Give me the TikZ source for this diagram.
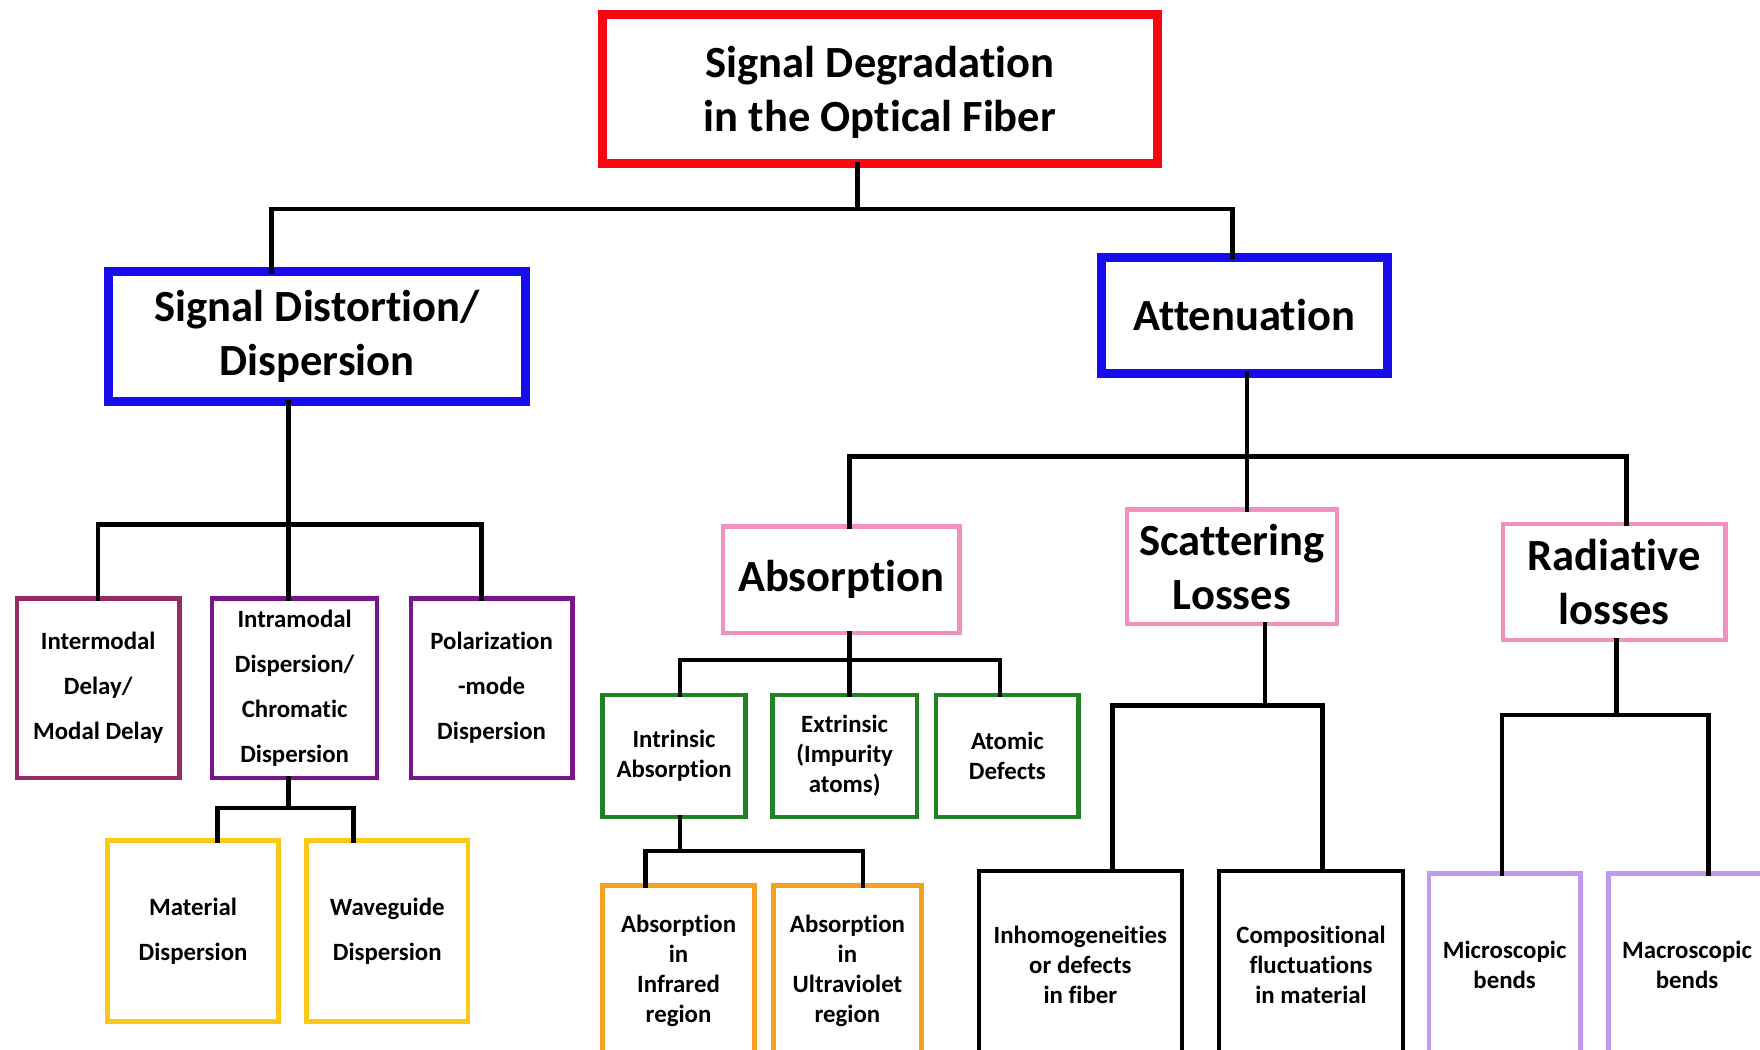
\documentclass[tikz,border=0pt]{standalone}
\usepackage{fontspec}
\setmainfont[Ligatures={NoCommon}]{Carlito}
\usetikzlibrary{calc}

\definecolor{degred}{RGB}{245,8,18}
\definecolor{catblue}{RGB}{22,12,238}
\definecolor{intermaroon}{RGB}{150,44,102}
\definecolor{intrapurple}{RGB}{118,22,138}
\definecolor{dispyellow}{RGB}{250,200,22}
\definecolor{losspink}{RGB}{240,146,192}
\definecolor{absgreen}{RGB}{32,130,34}
\definecolor{regorange}{RGB}{245,160,32}
\definecolor{bendlilac}{RGB}{192,152,240}

\begin{document}
\begin{tikzpicture}[
    box/.style={draw, rectangle, align=center, inner sep=0pt, outer sep=0pt, font=\bfseries},
    bigbox/.style={box, line width=2.3pt, font=\fontsize{11.3}{13.7}\selectfont\bfseries},
    midbox/.style={box, line width=1.15pt, font=\fontsize{11.3}{13.7}\selectfont\bfseries},
    loosebox/.style={box, line width=1.15pt, font=\fontsize{6.3}{11.4}\selectfont\bfseries},
    tightbox/.style={box, line width=1.15pt, font=\fontsize{6.3}{7.6}\selectfont\bfseries},
    link/.style={line width=1.15pt, line cap=rect}
]
\useasboundingbox (0,0) rectangle (15.68,-9.35);
\clip (0,0) rectangle (15.68,-9.35);

% top and second level
\node[bigbox, draw=degred, minimum width=4.94cm, minimum height=1.33cm, text depth=-0.6mm] (deg) at (7.84,-0.795)
    {Signal Degradation\\in the Optical Fiber};
\node[bigbox, draw=catblue, minimum width=3.71cm, minimum height=1.16cm] (dist) at (2.825,-3.00)
    {Signal Distortion/\\Dispersion};
\node[bigbox, draw=catblue, minimum width=2.55cm, minimum height=1.04cm] (att) at (11.085,-2.81)
    {Attenuation};

% dispersion branch
\node[loosebox, draw=intermaroon, minimum width=1.45cm, minimum height=1.60cm] (inter) at (0.875,-6.13)
    {Intermodal\\Delay/\\Modal Delay};
\node[loosebox, draw=intrapurple, minimum width=1.47cm, minimum height=1.60cm] (intra) at (2.625,-6.13)
    {Intramodal\\Dispersion/\\Chromatic\\Dispersion};
\node[loosebox, draw=intrapurple, minimum width=1.44cm, minimum height=1.60cm] (pol) at (4.38,-6.13)
    {Polarization\\-mode\\Dispersion};
\node[loosebox, draw=dispyellow, minimum width=1.52cm, minimum height=1.61cm] (mat) at (1.72,-8.295)
    {Material\\Dispersion};
\node[loosebox, draw=dispyellow, minimum width=1.44cm, minimum height=1.61cm] (wave) at (3.45,-8.295)
    {Waveguide\\Dispersion};

% attenuation branch
\node[midbox, draw=losspink, minimum width=2.11cm, minimum height=0.95cm] (absn) at (7.495,-5.165)
    {Absorption};
\node[midbox, draw=losspink, minimum width=1.87cm, minimum height=1.02cm] (scat) at (10.975,-5.05)
    {Scattering\\Losses};
\node[midbox, draw=losspink, minimum width=1.98cm, minimum height=1.03cm] (rad) at (14.38,-5.185)
    {Radiative\\losses};

\node[tightbox, draw=absgreen, minimum width=1.27cm, minimum height=1.09cm] (intr) at (6.005,-6.735)
    {Intrinsic\\Absorption};
\node[tightbox, draw=absgreen, minimum width=1.29cm, minimum height=1.09cm] (ext) at (7.525,-6.735)
    {Extrinsic\\(Impurity\\atoms)};
\node[tightbox, draw=absgreen, minimum width=1.27cm, minimum height=1.09cm] (atom) at (8.975,-6.735)
    {Atomic\\Defects};

\node[tightbox, draw=regorange, minimum width=1.35cm, minimum height=1.52cm] (infra) at (6.045,-8.65)
    {Absorption\\in\\Infrared\\region};
\node[tightbox, draw=regorange, minimum width=1.32cm, minimum height=1.52cm] (uv) at (7.55,-8.65)
    {Absorption\\in\\Ultraviolet\\region};

\node[tightbox, draw=black, minimum width=1.81cm, minimum height=1.68cm] (inh) at (9.625,-8.6)
    {Inhomogeneities\\or defects\\in fiber};
\node[tightbox, draw=black, minimum width=1.64cm, minimum height=1.68cm] (comp) at (11.68,-8.6)
    {Compositional\\fluctuations\\in material};

\node[tightbox, draw=bendlilac, minimum width=1.35cm, minimum height=1.64cm] (micro) at (13.405,-8.6)
    {Microscopic\\bends};
\node[tightbox, draw=bendlilac, minimum width=1.40cm, minimum height=1.64cm] (macro) at (15.03,-8.6)
    {Macroscopic\\bends};

% bus points
\coordinate (b1) at (7.64,-1.86);
\coordinate (b2) at (2.57,-4.675);
\coordinate (b3) at (2.57,-7.20);
\coordinate (b4) at (11.11,-4.065);
\coordinate (b5) at (7.57,-5.88);
\coordinate (b6) at (6.06,-7.58);
\coordinate (b7) at (11.27,-6.285);
\coordinate (b8) at (14.40,-6.37);

% connectors
\draw[link] (deg.south -| b1) -- (b1);
\draw[link] ([xshift=-4.05mm]dist.north) |- (b1) -| ([xshift=-1.05mm]att.north);

\draw[link] (dist.south -| b2) -- (b2);
\draw[link] (inter.north) |- (b2) -| ([xshift=-0.9mm]pol.north);
\draw[link] (intra.north -| b2) -- (b2);

\draw[link] (intra.south -| b3) -- (b3);
\draw[link] ([xshift=2.2mm]mat.north) |- (b3) -| ([xshift=-3mm]wave.north);

\draw[link] (att.south -| b4) -- (b4);
\draw[link] ([xshift=0.75mm]absn.north) |- (b4) -| ([xshift=1.1mm]rad.north);
\draw[link] (scat.north -| b4) -- (b4);

\draw[link] (absn.south -| b5) -- (b5);
\draw[link] ([xshift=0.55mm]intr.north) |- (b5) -| ([xshift=-0.65mm]atom.north);
\draw[link] (ext.north -| b5) -- (b5);

\draw[link] (intr.south -| b6) -- (b6);
\draw[link] ([xshift=-2.95mm]infra.north) |- (b6) -| ([xshift=1.4mm]uv.north);

\draw[link] (scat.south -| b7) -- (b7);
\draw[link] ([xshift=2.85mm]inh.north) |- (b7) -| ([xshift=1mm]comp.north);

\draw[link] (rad.south -| b8) -- (b8);
\draw[link] ([xshift=-0.25mm]micro.north) |- (b8) -| ([xshift=1.9mm]macro.north);

\end{tikzpicture}
\end{document}
